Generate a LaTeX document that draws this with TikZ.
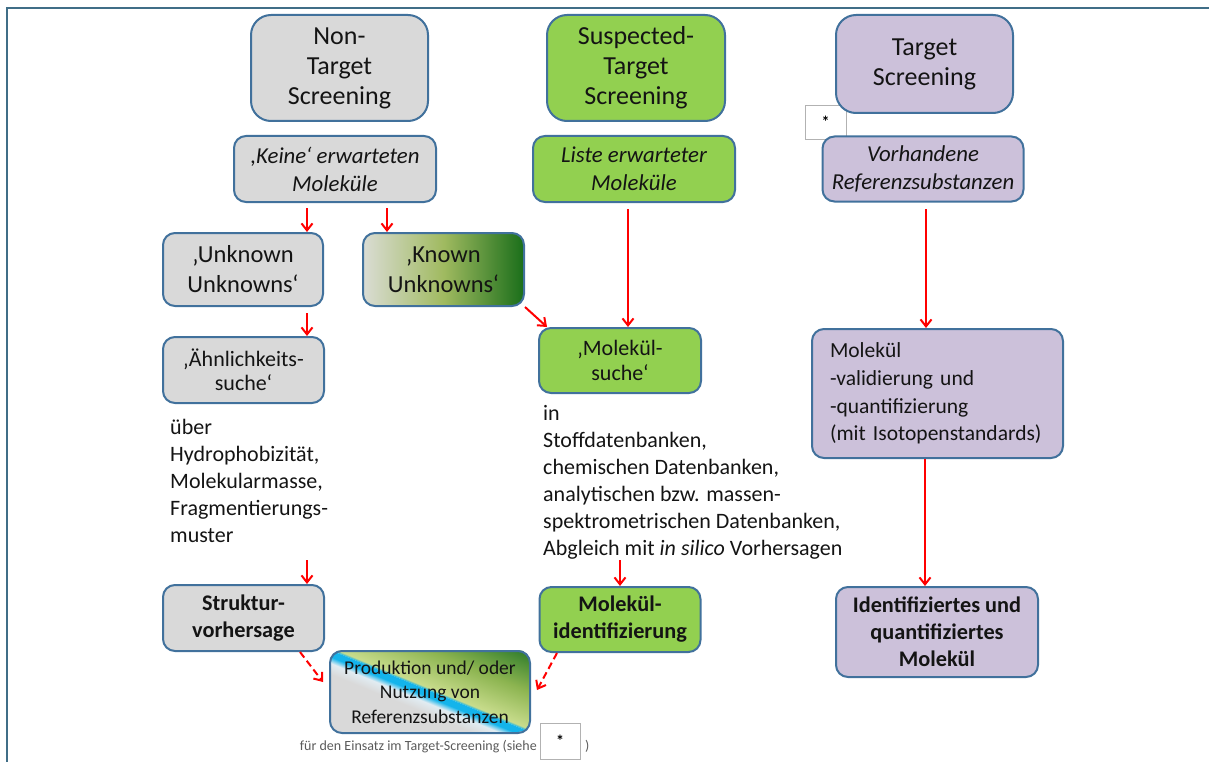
\documentclass[tikz,border=0pt]{standalone}
\usepackage{fontspec}
\setmainfont{Carlito}
\usetikzlibrary{arrows.meta,calc}
\definecolor{bordc}{RGB}{65,113,156}
\definecolor{grayf}{RGB}{217,217,217}
\definecolor{greenf}{RGB}{146,208,80}
\definecolor{purf}{RGB}{204,193,218}
\definecolor{arrred}{RGB}{255,0,0}
\definecolor{framec}{RGB}{64,110,135}
\definecolor{txt}{RGB}{20,20,20}
\definecolor{capc}{RGB}{90,90,90}
\definecolor{kugray}{RGB}{218,220,212}
\definecolor{kumid}{RGB}{160,186,96}
\definecolor{kudark}{RGB}{26,110,26}
\definecolor{cyanb}{RGB}{20,180,235}
\definecolor{lightc}{RGB}{225,236,242}
\definecolor{plA}{RGB}{200,220,140}
\definecolor{plB}{RGB}{140,180,80}
\definecolor{plC}{RGB}{40,120,40}
\pgfdeclareverticalshading{produp}{100bp}{color(0bp)=(cyanb); color(25bp)=(cyanb); color(26.5bp)=(plA); color(47bp)=(plB); color(70bp)=(plC); color(100bp)=(plC)}
\pgfdeclareverticalshading{prodlow}{100bp}{color(0bp)=(grayf); color(62bp)=(grayf); color(68bp)=(lightc); color(71.5bp)=(cyanb); color(75bp)=(cyanb); color(100bp)=(cyanb)}
\begin{document}
\begin{tikzpicture}[x=1pt,y=-1pt,
  bx/.style={draw=bordc, line width=2pt, rounded corners=12pt, inner sep=0pt, align=center, text=txt},
  bxbig/.style={bx, rounded corners=20pt},
  ftop/.style={font=\fontsize{26}{30}\selectfont},
  fuu/.style={font=\fontsize{24.5}{30}\selectfont},
  fital/.style={font=\fontsize{22.8}{28}\selectfont\itshape},
  fmid/.style={font=\fontsize{22}{24.5}\selectfont},
  fbold/.style={font=\fontsize{22.3}{27}\selectfont\bfseries},
  starbox/.style={draw=gray!60, line width=0.8pt, fill=white, inner sep=0pt, font=\fontsize{16}{18}\selectfont\bfseries, text=black},
  plain/.style={inner sep=0pt, align=left, text=txt, font=\fontsize{22}{26.8}\selectfont},
  arr/.style={draw=arrred, line width=2pt, -{Straight Barb[length=7pt,width=11pt]}},
  darr/.style={arr, dash pattern=on 7pt off 4pt}
]
\useasboundingbox (0,0) rectangle (1209,762);
\draw[framec, line width=2pt] (1209,7.8) -- (6.7,7.8) -- (6.7,762);

% star box behind target boxes
\node[starbox, minimum width=41pt, minimum height=34pt] (star1) at (825.5,122) {*};

% top row
\node[bxbig, fill=grayf, ftop, minimum width=177pt, minimum height=106pt] (nts) at (339.5,68) {Non-\\Target\\Screening};
\node[bxbig, fill=greenf, ftop, minimum width=178pt, minimum height=106pt] (sts) at (636,68) {Suspected-\\Target\\Screening};
\node[bxbig, fill=purf, ftop, minimum width=177pt, minimum height=98pt] (ts) at (924.5,64) {Target\\Screening};

% second row
\node[bx, fill=grayf, fital, minimum width=202pt, minimum height=66pt] (keine) at (335,169) {,Keine‘ erwarteten\\Moleküle};
\node[bx, fill=greenf, fital, minimum width=202pt, minimum height=66pt] (liste) at (634,169) {Liste erwarteter\\Moleküle};
\node[bx, fill=purf, fital, minimum width=201pt, minimum height=65pt] (vorh) at (923,169) {Vorhandene\\Referenzsubstanzen};

% unknowns
\node[bx, fill=grayf, fuu, minimum width=160pt, minimum height=73pt] (uu) at (243,269.5) {‚Unknown\\Unknowns‘};
\node[bx, left color=kugray, right color=kudark, middle color=kumid, fuu, minimum width=161pt, minimum height=73pt] (ku) at (443.5,269.5) {‚Known\\Unknowns‘};

% searches
\node[bx, fill=grayf, fmid, minimum width=161pt, minimum height=66pt] (ae) at (243.5,370) {‚Ähnlichkeits-\\suche‘};
\node[bx, fill=greenf, fmid, minimum width=162pt, minimum height=65pt] (ms) at (620,360.5) {‚Molekül-\\suche‘};
\node[bx, fill=purf, align=left, text width=215pt, inner xsep=18pt, minimum height=129pt, font=\fontsize{21.5}{27.7}\selectfont] (mv) at (937.5,393.5) {Molekül\\-validierung und\\-quantifizierung\\\mbox{(mit Isotopenstandards)}};

% free texts
\node[plain, anchor=north west] (uebtxt) at (170,419.5) {über\\Hydrophobizität,\\Molekularmasse,\\Fragmentierungs-\\muster};
\node[plain, anchor=north west, font=\fontsize{22}{27}\selectfont] (intxt) at (543,405.5) {in\\Stoffdatenbanken,\\chemischen Datenbanken,\\analytischen bzw. massen-\\spektrometrischen Datenbanken,\\Abgleich mit \textit{in silico} Vorhersagen};

% results
\node[bx, fill=grayf, fbold, minimum width=161pt, minimum height=66pt] (struk) at (243.5,618) {Struktur-\\vorhersage};
\node[bx, fill=greenf, fbold, minimum width=161pt, minimum height=65pt] (mi) at (620,619.5) {Molekül-\\identifizierung};
\node[bx, fill=purf, font=\fontsize{22.3}{27}\selectfont\bfseries, minimum width=202pt, minimum height=90pt] (idq) at (937,632) {Identifiziertes und\\quantifiziertes\\Molekül};

% production box with diagonal shading
\begin{scope}
  \clip[rounded corners=12pt] (330,650) rectangle (530,732);
  \begin{scope}[transform canvas={shift={(430,691)}, rotate=-22.29}]
    \shade[shading=produp] (-160pt,0pt) rectangle (160pt,85pt);
    \shade[shading=prodlow] (-160pt,-85pt) rectangle (160pt,0pt);
  \end{scope}
\end{scope}
\node[bx, minimum width=200pt, minimum height=82pt, font=\fontsize{19.5}{24.5}\selectfont] (prod) at (430,692) {Produktion und/ oder\\Nutzung von\\Referenzsubstanzen};

% caption
\node[inner sep=0pt, anchor=base east, text=capc, font=\fontsize{14}{16}\selectfont] (cap) at (537,750) {für den Einsatz im Target-Screening (siehe};
\node[starbox, minimum width=40pt, minimum height=36pt] (star2) at (560,741) {*};
\node[inner sep=0pt, anchor=base west, text=capc, font=\fontsize{14}{16}\selectfont] (capend) at (585,750) {)};

% arrows
\coordinate (c1) at (307,208);
\coordinate (c2) at (387,208);
\coordinate (c3) at (307,313);
\coordinate (c5) at (628,209);
\coordinate (c6) at (926,209);
\coordinate (c7) at (925,458);
\coordinate (c8) at (307,560);
\coordinate (c9) at (620,560);
\coordinate (d1e) at (323,682);
\coordinate (d2e) at (537,690);
\draw[arr] (c1) -- (uu.north -| c1);
\draw[arr] (c2) -- (ku.north -| c2);
\draw[arr] (c3) -- (ae.north -| c3);
\draw[arr] (ku.south east) -- ([xshift=9pt]ms.north west);
\draw[arr] (c5) -- (ms.north -| c5);
\draw[arr] (c6) -- (mv.north -| c6);
\draw[arr] (mv.south -| c7) -- (idq.north -| c7);
\draw[arr] (c8) -- (struk.north -| c8);
\draw[arr] (c9) -- (mi.north -| c9);
\draw[darr] ([xshift=56.5pt]struk.south) -- (d1e);
\draw[darr] ([xshift=-63pt]mi.south) -- (d2e);
\end{tikzpicture}
\end{document}
